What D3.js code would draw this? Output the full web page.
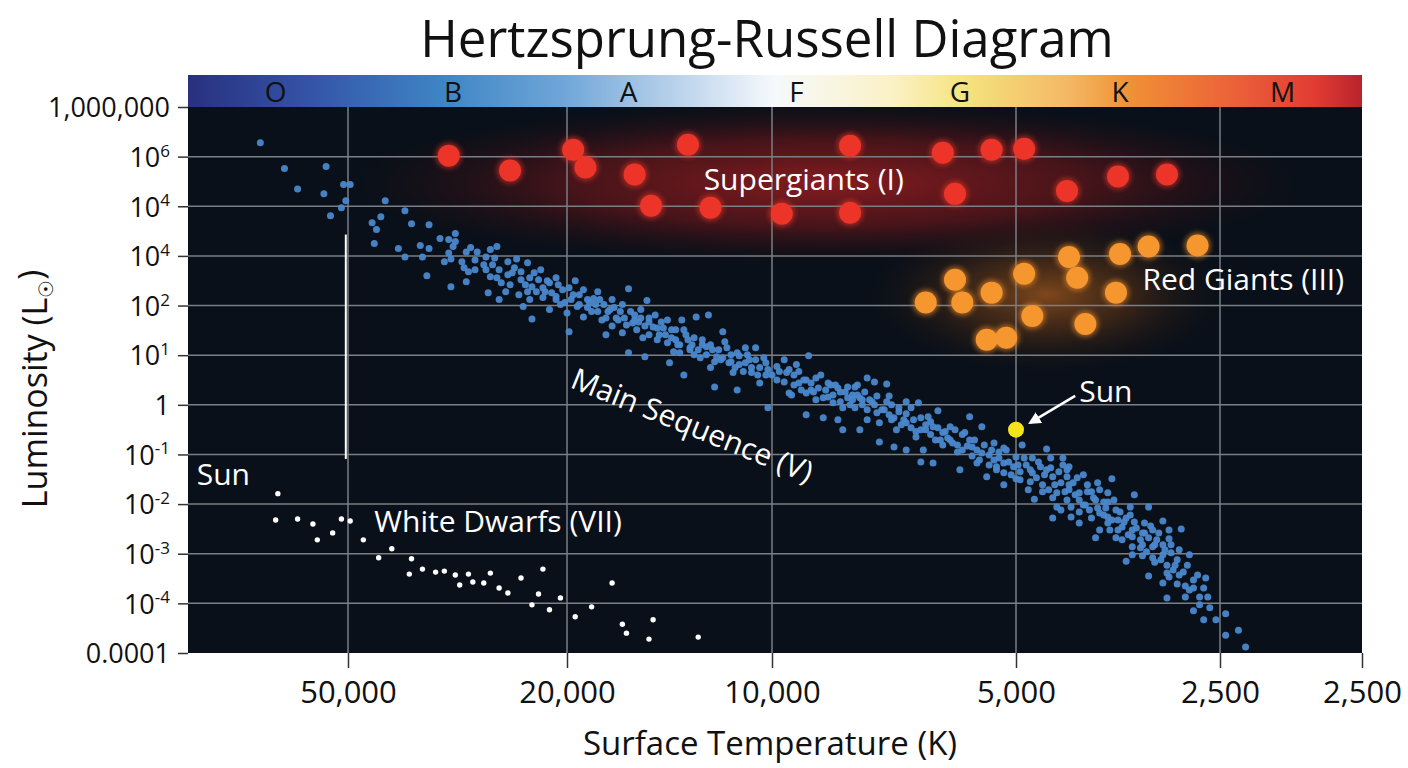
<!DOCTYPE html>
<html>
<head>
<meta charset="utf-8">
<script src="https://cdn.jsdelivr.net/npm/d3@7"></script>
<style>
  body { margin: 0; background: #fff; }
  text { font-family: "Open Sans", "Noto Sans", sans-serif; }
</style>
</head>
<body>
<div id="chart"></div>
<script>
// Values are in axis-tick units: x = index of the temperature tick, y = index of the luminosity tick (0 = bottom)
const xTickLabels = ['50,000', '20,000', '10,000', '5,000', '2,500', '2,500'];
const xEdge = -0.73; // left border of the plot, in tick units
const yTickLabels = [
  ['0.0001'], ['10', '-4'], ['10', '-3'], ['10', '-2'], ['10', '-1'], ['1'],
  ['10', '1'], ['10', '2'], ['10', '4'], ['10', '4'], ['10', '6'], ['1,000,000']
];

const spectralClasses = ['O', 'B', 'A', 'F', 'G', 'K', 'M'];
const spectralPos = [-0.33, 0.48, 1.30, 2.10, 2.77, 3.51, 4.44];

const supergiants = [
  [0.46, 10.02], [0.74, 9.72], [1.03, 10.14], [1.09, 9.78], [1.33, 9.64], [1.41, 9.01],
  [1.59, 10.24], [1.70, 8.97], [2.04, 8.85], [2.32, 10.22], [2.32, 8.87], [2.70, 10.08],
  [2.75, 9.25], [2.90, 10.14], [3.04, 10.16], [3.25, 9.31], [3.50, 9.60], [3.74, 9.64]
];

const redGiants = [
  [2.63, 7.06], [2.75, 7.52], [2.78, 7.06], [2.90, 7.26], [3.04, 7.64], [3.08, 6.79],
  [2.88, 6.31], [2.96, 6.35], [3.26, 7.98], [3.30, 7.56], [3.34, 6.63], [3.49, 7.26],
  [3.51, 8.04], [3.65, 8.19], [3.89, 8.21]
];

const whiteDwarfs = [
  [-0.32, 3.21], [-0.33, 2.68], [-0.23, 2.70], [-0.16, 2.60], [-0.14, 2.28], [-0.07, 2.42],
  [-0.03, 2.70], [0.01, 2.66], [0.07, 2.28], [0.14, 1.92], [0.20, 2.10], [0.29, 1.90],
  [0.28, 1.59], [0.34, 1.69], [0.40, 1.63], [0.44, 1.65], [0.49, 1.57], [0.55, 1.59],
  [0.51, 1.37], [0.57, 1.43], [0.62, 1.41], [0.65, 1.61], [0.69, 1.31], [0.73, 1.21],
  [0.79, 1.51], [0.89, 1.69], [0.87, 1.19], [0.97, 1.11], [0.84, 0.97], [0.92, 0.87],
  [1.04, 0.73], [1.12, 0.93], [1.22, 1.41], [1.27, 0.58], [1.29, 0.40], [1.42, 0.67],
  [1.40, 0.28], [1.64, 0.32]
];

const mainSequence = [
  // O / early B
  [-0.40, 10.28], [-0.29, 9.76], [-0.10, 9.80], [-0.23, 9.35], [-0.11, 9.25], [-0.02, 9.44],
  [0.01, 9.44], [-0.01, 9.11], [-0.03, 8.97], [-0.08, 8.81], [0.17, 9.11], [0.26, 8.91],
  [0.15, 8.79], [0.11, 8.67], [0.13, 8.53], [0.29, 8.65], [0.37, 8.63], [0.12, 8.25],
  [0.23, 8.15], [0.26, 7.98], [0.33, 8.21], [0.37, 8.15], [0.34, 7.98], [0.36, 7.60],
  [0.42, 8.35], [0.46, 8.33], [0.49, 8.45], [0.48, 8.19], [0.46, 8.06], [0.47, 7.94],
  [0.52, 7.88], [0.54, 8.08], [0.58, 7.92], [0.59, 8.08], [0.55, 7.68], [0.54, 7.48], [0.47, 7.38],
  [0.49, 8.29], [0.56, 8.17], [0.53, 7.76], [0.58, 7.72], [0.44, 7.88],
  // B / A
  [0.68, 8.19], [0.65, 8.13], [0.63, 7.98], [0.66, 7.82], [0.77, 7.94], [0.65, 7.58],
  [0.69, 7.72], [0.70, 7.46], [0.73, 7.62], [0.75, 7.66], [0.85, 7.66], [0.64, 7.26],
  [0.69, 7.12], [0.72, 7.28], [0.78, 7.22], [0.80, 6.98], [0.83, 7.12], [0.81, 7.42],
  [0.84, 7.38], [0.89, 7.36], [0.92, 7.46], [0.96, 7.42], [1.04, 7.50], [0.84, 6.73],
  [0.89, 7.16], [0.92, 6.92], [0.95, 7.18], [0.99, 7.06], [1.00, 6.85], [1.01, 6.47],
  [1.05, 6.98], [1.08, 6.77], [1.11, 7.06], [1.13, 7.14], [1.15, 6.88], [1.17, 6.71],
  [1.19, 6.41], [1.21, 6.92], [1.23, 6.96], [1.22, 6.59], [1.25, 6.71], [1.30, 7.34],
  [1.27, 6.45], [1.32, 6.65], [1.36, 6.92], [1.39, 7.10], [1.34, 6.51], [1.37, 6.35],
  [1.40, 6.75], [1.42, 6.57], [1.30, 6.05], [1.46, 6.67], [1.45, 6.41], [1.49, 6.25],
  [1.51, 6.51], [1.38, 5.97], [1.52, 6.07], [1.50, 5.85], [1.56, 6.71], [1.57, 6.51],
  [1.59, 6.31], [1.55, 6.05], [1.61, 6.21], [1.63, 6.77], [1.57, 5.60], [1.65, 5.95],
  [1.69, 6.81], [1.68, 6.17], [1.70, 5.75], [1.72, 5.36], [1.73, 5.97], [1.76, 6.47],
  [1.77, 6.27], [1.79, 5.85], [1.81, 5.65], [1.83, 6.05], [1.83, 5.30], [1.87, 6.15],
  [1.87, 5.85], [1.90, 5.65], [1.92, 6.15], [1.94, 5.44], [1.97, 5.85], [1.98, 4.94],
  [2.00, 5.60], [2.02, 5.77],
  [0.79, 7.52], [0.82, 7.28], [0.87, 7.52], [0.90, 7.28], [0.95, 7.12], [0.98, 7.32],
  [1.02, 7.12], [1.06, 7.22], [1.10, 6.96], [1.14, 7.02], [1.16, 7.12], [1.19, 6.75],
  [1.26, 6.88], [1.28, 6.75], [1.33, 6.81], [1.35, 6.67], [1.40, 6.41], [1.44, 6.55],
  [1.48, 6.41], [1.53, 6.31], [1.54, 6.21], [1.60, 6.11], [1.62, 6.01], [1.66, 6.21],
  [1.71, 6.11], [1.75, 5.91], [1.80, 6.01], [1.84, 5.81], [1.89, 5.91], [1.94, 5.75], [1.97, 5.60],
  [0.62, 7.82], [0.63, 7.72], [0.67, 7.96], [0.68, 7.56], [0.73, 7.88], [0.74, 7.42],
  [0.76, 7.76], [0.79, 7.68], [0.82, 7.86], [0.83, 7.56], [0.86, 7.28], [0.88, 7.72],
  [0.91, 7.50], [0.93, 7.26], [0.95, 7.56], [0.97, 7.02],
  [1.01, 7.36], [1.03, 7.22], [1.06, 7.02], [1.08, 7.32], [1.10, 7.12], [1.12, 6.88],
  [1.15, 7.28], [1.18, 7.02], [1.20, 6.88], [1.22, 7.12], [1.24, 6.75], [1.27, 7.02],
  [1.29, 6.61], [1.31, 6.88], [1.33, 6.71], [1.36, 6.75], [1.38, 6.59], [1.40, 6.67],
  [1.43, 6.81], [1.44, 6.31], [1.47, 6.55], [1.49, 6.71], [1.51, 6.35], [1.53, 6.51],
  [1.55, 6.21], [1.58, 6.41], [1.60, 6.15], [1.62, 6.35], [1.64, 6.11], [1.66, 6.31],
  [1.68, 6.01], [1.70, 6.21], [1.72, 5.87], [1.74, 6.11], [1.76, 5.95], [1.78, 6.15],
  [1.80, 5.87], [1.82, 5.75], [1.84, 5.99], [1.86, 5.67], [1.88, 6.01], [1.90, 5.75],
  [1.92, 5.91], [1.93, 5.60], [1.96, 5.95], [1.98, 5.71],
  // F / G
  [2.15, 5.99], [2.05, 5.91], [2.10, 5.81], [2.06, 5.65], [2.13, 5.50], [2.20, 5.60],
  [2.07, 5.24], [2.16, 5.30], [2.18, 5.10], [2.23, 5.44], [2.26, 5.40], [2.31, 5.36],
  [2.35, 5.40], [2.39, 5.54], [2.42, 5.46], [2.47, 5.42], [2.48, 5.18], [2.25, 5.04],
  [2.29, 4.94], [2.33, 5.10], [2.37, 5.00], [2.14, 4.80], [2.21, 4.74], [2.29, 4.50],
  [2.36, 4.50], [2.39, 4.70], [2.43, 4.84], [2.44, 4.64], [2.49, 5.00], [2.52, 4.86],
  [2.55, 5.06], [2.60, 5.04], [2.64, 4.76], [2.68, 4.88], [2.44, 4.25], [2.50, 4.15],
  [2.51, 4.50], [2.55, 4.64], [2.59, 4.35], [2.55, 4.09], [2.62, 4.09], [2.61, 4.50],
  [2.66, 4.56], [2.70, 4.44], [2.73, 4.56], [2.74, 4.23], [2.79, 4.44], [2.81, 4.76],
  [2.86, 4.56], [2.82, 4.15], [2.86, 4.03], [2.91, 4.23], [2.93, 4.05], [2.66, 3.83],
  [2.61, 3.85], [2.77, 3.69], [2.84, 3.83], [2.88, 3.55], [2.92, 3.75],
  [2.08, 5.20], [2.11, 5.44], [2.14, 5.24], [2.23, 5.16], [2.27, 4.70], [2.32, 5.00],
  [2.34, 5.36], [2.37, 5.10], [2.49, 4.70],
  [2.09, 5.60], [2.16, 5.44], [2.22, 5.30], [2.28, 5.26], [2.31, 5.14], [2.35, 5.20],
  [2.40, 5.10], [2.42, 5.00], [2.46, 4.90], [2.50, 4.74], [2.54, 4.70], [2.57, 4.54],
  [2.63, 4.60], [2.65, 4.40], [2.69, 4.29], [2.72, 4.33], [2.76, 4.19], [2.78, 4.09],
  [2.81, 4.29], [2.84, 4.09], [2.89, 3.99], [2.91, 3.89],
  [2.02, 5.50], [2.03, 5.67], [2.05, 5.46], [2.07, 5.71], [2.09, 5.40], [2.11, 5.67],
  [2.12, 5.30], [2.14, 5.50], [2.17, 5.26], [2.18, 5.54], [2.19, 5.34], [2.21, 5.14],
  [2.24, 5.40], [2.25, 5.20], [2.27, 5.34], [2.28, 5.06], [2.30, 5.26], [2.33, 5.20],
  [2.34, 4.94], [2.36, 5.14], [2.38, 5.26], [2.39, 4.90], [2.41, 5.06], [2.43, 5.18],
  [2.45, 4.90], [2.47, 5.06], [2.48, 4.80], [2.52, 4.94], [2.53, 4.60], [2.55, 4.82],
  [2.57, 4.94], [2.58, 4.70], [2.59, 4.46], [2.61, 4.74], [2.63, 4.50], [2.65, 4.66],
  [2.67, 4.29], [2.68, 4.54], [2.70, 4.19], [2.71, 4.46], [2.73, 4.29], [2.75, 4.50],
  [2.76, 4.05], [2.78, 4.40], [2.80, 4.17], [2.82, 3.97], [2.83, 4.29], [2.85, 3.89],
  [2.87, 4.19], [2.89, 3.79], [2.90, 4.09], [2.92, 3.69], [2.93, 3.93], [2.95, 4.13],
  [2.97, 3.85], [2.98, 3.59],
  // K / M
  [3.03, 4.19], [3.15, 4.11], [2.96, 4.09], [3.00, 3.95], [3.08, 3.93], [3.17, 3.93],
  [3.23, 3.93], [2.95, 3.83], [2.99, 3.75], [3.05, 3.79], [3.12, 3.75], [3.23, 3.79],
  [3.26, 3.75], [2.95, 3.63], [3.02, 3.65], [3.08, 3.63], [3.15, 3.69], [3.18, 3.55],
  [3.25, 3.55], [3.33, 3.59], [3.00, 3.51], [3.07, 3.45], [3.13, 3.39], [3.22, 3.43],
  [3.28, 3.43], [3.35, 3.39], [3.40, 3.43], [3.47, 3.51], [2.95, 3.39], [3.06, 3.29],
  [3.13, 3.25], [3.20, 3.23], [3.26, 3.29], [3.31, 3.23], [3.37, 3.25], [3.45, 3.23],
  [3.09, 3.10], [3.18, 3.13], [3.25, 3.08], [3.31, 3.08], [3.38, 3.13], [3.43, 3.04],
  [3.58, 3.19], [3.20, 2.94], [3.27, 2.94], [3.34, 2.98], [3.40, 2.92], [3.45, 3.04],
  [3.49, 2.88], [3.56, 2.94], [3.65, 2.94], [3.22, 2.88], [3.31, 2.84], [3.37, 2.72],
  [3.41, 2.82], [3.45, 2.74], [3.18, 2.72], [3.27, 2.74], [3.31, 2.62], [3.45, 2.62],
  [3.50, 2.68], [3.54, 2.72], [3.58, 2.64], [3.63, 2.62], [3.72, 2.66], [3.81, 2.50],
  [3.41, 2.48], [3.46, 2.48], [3.52, 2.54], [3.57, 2.48], [3.62, 2.42], [3.67, 2.48],
  [3.39, 2.32], [3.49, 2.32], [3.52, 2.28], [3.57, 2.34], [3.61, 2.28], [3.65, 2.32],
  [3.69, 2.28], [3.75, 2.30], [3.57, 2.14], [3.62, 2.18], [3.67, 2.14], [3.72, 2.18],
  [3.57, 1.98], [3.62, 1.96], [3.67, 1.92], [3.72, 1.98], [3.76, 2.02], [3.85, 1.98],
  [3.54, 1.85], [3.68, 1.83], [3.74, 1.77], [3.79, 1.88], [3.77, 1.67], [3.82, 1.63],
  [3.74, 1.61], [3.65, 1.55], [3.75, 1.53], [3.72, 1.41], [3.79, 1.39], [3.83, 1.35],
  [3.87, 1.47], [3.93, 1.51], [3.87, 1.31], [3.74, 1.11], [3.83, 1.13], [3.90, 1.13],
  [3.94, 1.13], [3.87, 0.85], [3.95, 0.91], [3.92, 0.67], [3.98, 0.67], [4.04, 0.79],
  [4.04, 0.36], [4.13, 0.46], [4.18, 0.12],
  [3.01, 3.79], [3.02, 3.49], [3.04, 3.93], [3.07, 3.69], [3.10, 3.53], [3.11, 3.85],
  [3.14, 3.59], [3.16, 3.29], [3.17, 3.73], [3.19, 3.39], [3.21, 3.65], [3.24, 3.25],
  [3.25, 3.69], [3.26, 3.39], [3.29, 3.19], [3.30, 3.53], [3.33, 2.98], [3.35, 3.25],
  [3.36, 2.88], [3.39, 3.08], [3.41, 3.29], [3.43, 2.78], [3.44, 2.92], [3.47, 2.68],
  [3.48, 3.08], [3.50, 2.48], [3.51, 2.84], [3.53, 2.64], [3.55, 2.38], [3.56, 2.78],
  [3.59, 2.52], [3.61, 2.12], [3.63, 2.42], [3.64, 2.04], [3.66, 2.56], [3.68, 2.18],
  [3.70, 2.42], [3.71, 1.88], [3.73, 2.08], [3.75, 2.48], [3.76, 2.18], [3.78, 1.77],
  [3.80, 2.08], [3.80, 1.57], [3.84, 1.77], [3.85, 1.27], [3.89, 1.57], [3.90, 0.97],
  [3.92, 1.31]
];

const sun = [3.00, 4.50];
const whiteLine = [[-0.01, 3.91], [-0.01, 8.43]];
const sunArrow = [[3.29, 5.18], [3.07, 4.64]];

const annotations = [
  { text: 'Supergiants (I)', x: 2.13, y: 9.33, anchor: 'middle', rotate: 0 },
  { text: 'Red Giants (III)', x: 3.62, y: 7.32, anchor: 'start', rotate: 0 },
  { text: 'Main Sequence (V)', x: 1.01, y: 5.36, anchor: 'start', rotate: 22 },
  { text: 'White Dwarfs (VII)', x: 0.12, y: 2.44, anchor: 'start', rotate: 0 },
  { text: 'Sun', x: -0.69, y: 3.39, anchor: 'start', rotate: 0 },
  { text: 'Sun', x: 3.31, y: 5.06, anchor: 'start', rotate: 0 }
];

// ---- layout
const width = 1408, height = 768;
const margin = { top: 107, right: 46, bottom: 115, left: 188 };
const plotWidth = width - margin.left - margin.right;
const plotHeight = height - margin.top - margin.bottom;
const barHeight = 32;

const svg = d3.select('#chart').append('svg')
  .attr('width', width)
  .attr('height', height);

svg.append('rect').attr('width', width).attr('height', height).attr('fill', '#fff');

const defs = svg.append('defs');

// temperature axis is uneven in the original, so the scale is piecewise
const xStops = [0, 160, 379, 584, 828, 1032, plotWidth];
const x = d3.scaleLinear()
  .domain([xEdge, ...xTickLabels.map((d, i) => i)])
  .range(xStops);
const y = d3.scaleLinear()
  .domain([0, yTickLabels.length - 1])
  .range([plotHeight, 0]);

// spectral colour bar
const barGrad = defs.append('linearGradient').attr('id', 'specGrad');
[
  [0, '#29307f'], [0.1, '#3452a6'], [0.22, '#3f86c6'], [0.32, '#6fa6d8'],
  [0.4, '#aecbe8'], [0.5, '#f6f9fc'], [0.6, '#fbf1c6'], [0.66, '#f5e47f'],
  [0.75, '#f4b864'], [0.8, '#f09236'], [0.9, '#eb5c38'], [0.96, '#e23b33'], [1, '#b8232b']
].forEach(([o, c]) => barGrad.append('stop').attr('offset', o).attr('stop-color', c));

const sgGlow = defs.append('radialGradient').attr('id', 'sgGlow');
sgGlow.append('stop').attr('offset', 0).attr('stop-color', '#961d20').attr('stop-opacity', 0.9);
sgGlow.append('stop').attr('offset', 0.55).attr('stop-color', '#6e171a').attr('stop-opacity', 0.6);
sgGlow.append('stop').attr('offset', 1).attr('stop-color', '#3a0e12').attr('stop-opacity', 0);

const rgGlow = defs.append('radialGradient').attr('id', 'rgGlow');
rgGlow.append('stop').attr('offset', 0).attr('stop-color', '#a65a1c').attr('stop-opacity', 0.75);
rgGlow.append('stop').attr('offset', 0.5).attr('stop-color', '#6b3a16').attr('stop-opacity', 0.45);
rgGlow.append('stop').attr('offset', 1).attr('stop-color', '#2a1a10').attr('stop-opacity', 0);

const soft = defs.append('filter').attr('id', 'soft')
  .attr('x', '-50%').attr('y', '-50%').attr('width', '200%').attr('height', '200%');
soft.append('feGaussianBlur').attr('stdDeviation', 2.5);

defs.append('clipPath').attr('id', 'plotClip')
  .append('rect').attr('width', plotWidth).attr('height', plotHeight);

const marker = defs.append('marker').attr('id', 'arrowHead')
  .attr('viewBox', '0 0 10 10').attr('refX', 8).attr('refY', 5)
  .attr('markerWidth', 5).attr('markerHeight', 5).attr('orient', 'auto');
marker.append('path').attr('d', 'M0,0 L10,5 L0,10 z').attr('fill', '#fff');

// title
svg.append('text')
  .attr('x', 767).attr('y', 57)
  .attr('text-anchor', 'middle')
  .attr('font-size', 51)
  .attr('fill', '#111')
  .text('Hertzsprung-Russell Diagram');

const g = svg.append('g').attr('transform', `translate(${margin.left},${margin.top})`);

// colour bar + class letters
g.append('rect')
  .attr('x', 0).attr('y', -barHeight)
  .attr('width', plotWidth).attr('height', barHeight)
  .attr('fill', 'url(#specGrad)');
g.selectAll('.spec')
  .data(spectralClasses)
  .join('text')
  .attr('class', 'spec')
  .attr('x', (d, i) => x(spectralPos[i]))
  .attr('y', -5)
  .attr('text-anchor', 'middle')
  .attr('font-size', 28)
  .attr('fill', '#111')
  .text(d => d);

// plot background
g.append('rect').attr('width', plotWidth).attr('height', plotHeight).attr('fill', '#0a1019');

const plot = g.append('g').attr('clip-path', 'url(#plotClip)');

// glows behind the giant branches
const sgx = d3.extent(supergiants, d => x(d[0]));
const sgy = d3.extent(supergiants, d => y(d[1]));
plot.append('ellipse')
  .attr('cx', (sgx[0] + sgx[1]) / 2 + 20)
  .attr('cy', (sgy[0] + sgy[1]) / 2 + 4)
  .attr('rx', (sgx[1] - sgx[0]) / 2 + 110)
  .attr('ry', (sgy[1] - sgy[0]) / 2 + 45)
  .attr('fill', 'url(#sgGlow)');

const rgx = d3.extent(redGiants, d => x(d[0]));
const rgy = d3.extent(redGiants, d => y(d[1]));
plot.append('ellipse')
  .attr('cx', (rgx[0] + rgx[1]) / 2 - 15)
  .attr('cy', (rgy[0] + rgy[1]) / 2 + 2)
  .attr('rx', (rgx[1] - rgx[0]) / 2 + 40)
  .attr('ry', (rgy[1] - rgy[0]) / 2 + 30)
  .attr('fill', 'url(#rgGlow)');

// grid
plot.selectAll('.vgrid')
  .data(d3.range(0, xTickLabels.length - 1))
  .join('line')
  .attr('x1', d => x(d)).attr('x2', d => x(d))
  .attr('y1', 0).attr('y2', plotHeight)
  .attr('stroke', '#7a7e85').attr('stroke-width', 1.5);
plot.selectAll('.hgrid')
  .data(d3.range(1, yTickLabels.length - 1))
  .join('line')
  .attr('x1', 0).attr('x2', plotWidth)
  .attr('y1', d => y(d)).attr('y2', d => y(d))
  .attr('stroke', '#7a7e85').attr('stroke-width', 1.5);

// vertical white marker line
plot.append('line')
  .attr('x1', x(whiteLine[0][0])).attr('x2', x(whiteLine[1][0]))
  .attr('y1', y(whiteLine[0][1])).attr('y2', y(whiteLine[1][1]))
  .attr('stroke', '#fff').attr('stroke-width', 2);

// main sequence
plot.selectAll('.ms')
  .data(mainSequence)
  .join('circle')
  .attr('cx', d => x(d[0])).attr('cy', d => y(d[1]))
  .attr('r', 3.5)
  .attr('fill', '#4a88cd')
  .attr('fill-opacity', 0.95);

// white dwarfs
plot.selectAll('.wd')
  .data(whiteDwarfs)
  .join('circle')
  .attr('cx', d => x(d[0])).attr('cy', d => y(d[1]))
  .attr('r', 2.7)
  .attr('fill', '#fff');

// giants: soft halo + disc
function drawGiants(data, halo, fill) {
  const grp = plot.append('g');
  grp.selectAll('.halo').data(data).join('circle')
    .attr('cx', d => x(d[0])).attr('cy', d => y(d[1]))
    .attr('r', 13).attr('fill', halo).attr('opacity', 0.6)
    .attr('filter', 'url(#soft)');
  grp.selectAll('.disc').data(data).join('circle')
    .attr('cx', d => x(d[0])).attr('cy', d => y(d[1]))
    .attr('r', 11).attr('fill', fill);
}
drawGiants(supergiants, '#e2352a', '#ec3428');
drawGiants(redGiants, '#f08c28', '#f6962e');

// sun
plot.append('circle')
  .attr('cx', x(sun[0])).attr('cy', y(sun[1]))
  .attr('r', 8).attr('fill', '#f6e41a');

plot.append('line')
  .attr('x1', x(sunArrow[0][0])).attr('y1', y(sunArrow[0][1]))
  .attr('x2', x(sunArrow[1][0])).attr('y2', y(sunArrow[1][1]))
  .attr('stroke', '#fff').attr('stroke-width', 2.5)
  .attr('marker-end', 'url(#arrowHead)');

// labels
plot.selectAll('.ann')
  .data(annotations)
  .join('text')
  .attr('transform', d => `translate(${x(d.x)},${y(d.y)}) rotate(${d.rotate})`)
  .attr('text-anchor', d => d.anchor)
  .attr('font-size', 30)
  .attr('fill', '#fff')
  .text(d => d.text);

// axes
const yAxis = g.append('g')
  .call(d3.axisLeft(y).tickValues(d3.range(yTickLabels.length)).tickSize(10).tickPadding(8).tickFormat(''));
yAxis.select('.domain').remove();
yAxis.selectAll('.tick line').attr('stroke', '#333').attr('stroke-width', 1.5);
yAxis.selectAll('.tick text').each(function(d) {
  const t = d3.select(this).text(null)
    .attr('font-size', 27)
    .attr('fill', '#111')
    .attr('dy', '0.36em');
  const lab = yTickLabels[d];
  t.append('tspan').text(lab[0]);
  if (lab[1]) t.append('tspan').attr('dy', '-0.6em').attr('font-size', 17).text(lab[1]);
});

const xAxis = g.append('g')
  .attr('transform', `translate(0,${plotHeight})`)
  .call(d3.axisBottom(x).tickValues(d3.range(xTickLabels.length)).tickSize(15).tickPadding(13)
    .tickFormat(i => xTickLabels[i]));
xAxis.select('.domain').remove();
xAxis.selectAll('.tick line').attr('stroke', '#333').attr('stroke-width', 1.5);
xAxis.selectAll('.tick text').attr('font-size', 31).attr('fill', '#111');

// axis titles
svg.append('text')
  .attr('x', margin.left + x(2) - 2).attr('y', 755)
  .attr('text-anchor', 'middle')
  .attr('font-size', 33)
  .attr('fill', '#111')
  .text('Surface Temperature (K)');

const yTitle = svg.append('text')
  .attr('transform', `translate(47,${margin.top + y(5.32)}) rotate(-90)`)
  .attr('text-anchor', 'middle')
  .attr('font-size', 34)
  .attr('fill', '#111');
yTitle.append('tspan').text('Luminosity (L');
yTitle.append('tspan').attr('font-size', 20).attr('dy', '0.3em').text('☉');
yTitle.append('tspan').attr('dy', '-0.3em').text(')');
</script>
</body>
</html>
